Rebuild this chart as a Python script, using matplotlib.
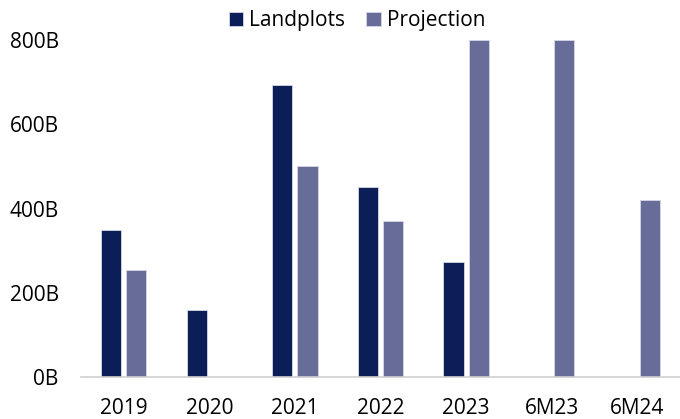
import matplotlib.pyplot as plt
import numpy as np

categories = ["2019", "2020", "2021", "2022", "2023", "6M23", "6M24"]
landplots = [350, 160, 693, 450, 272, np.nan, np.nan]
projection = [255, np.nan, 500, 370, 800, 800, 420]
yticks = [0, 200, 400, 600, 800]
ytick_labels = ["0B", "200B", "400B", "600B", "800B"]

plt.rcParams["font.family"] = ["Open Sans", "DejaVu Sans"]

fig = plt.figure(figsize=(6.8, 4.19), dpi=100)
ax = fig.add_axes([0.119, 0.1002, 0.881, 0.8043])

x = np.arange(len(categories))
w = 0.235
off = 0.147
ax.bar(x - off, landplots, w, color="#0b1e58", edgecolor="#d6d8e6", linewidth=0.6,
       label="Landplots")
ax.bar(x + off, projection, w, color="#676c99", edgecolor="#d6d8e6", linewidth=0.6,
       label="Projection")

ax.set_xlim(-0.5, len(categories) - 0.5)
ax.set_ylim(0, 800)
ax.set_yticks(yticks)
ax.set_yticklabels(ytick_labels)
ax.set_xticks(x)
ax.set_xticklabels(categories)
ax.tick_params(axis="both", length=0, labelsize=15, colors="black")
ax.tick_params(axis="y", pad=16)
ax.tick_params(axis="x", pad=15)

for s in ["top", "right", "left"]:
    ax.spines[s].set_visible(False)
ax.spines["bottom"].set_color("#d0d0d0")
ax.spines["bottom"].set_linewidth(1.2)

fig.legend(loc="upper center", bbox_to_anchor=(0.525, 1.02), ncol=2, frameon=False,
           fontsize=15, handlelength=0.7, handleheight=0.7, handletextpad=0.3,
           columnspacing=1.0)

fig.savefig("out.png", dpi=100)
